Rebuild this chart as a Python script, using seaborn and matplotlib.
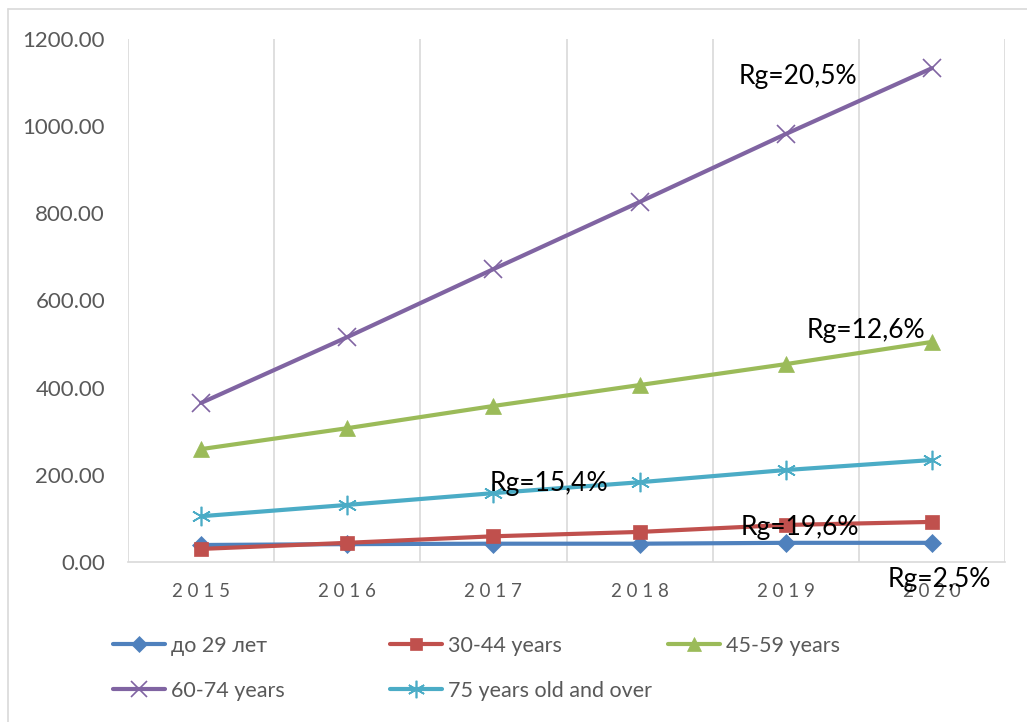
import matplotlib
matplotlib.use("Agg")
import matplotlib.pyplot as plt
import seaborn as sns
import pandas as pd
import numpy as np
from matplotlib.lines import Line2D

years = [2015, 2016, 2017, 2018, 2019, 2020]
series_names = ["до 29 лет", "30-44 years", "45-59 years", "60-74 years", "75 years old and over"]
v_upto29 = [39, 41, 42, 42, 44, 44]
v_30_44 = [30, 44, 59, 69, 85, 92]
v_45_59 = [259, 307, 358, 406, 454, 505]
v_60_74 = [365, 516, 672, 826, 982, 1133]
v_75plus = [105, 131, 158, 183, 211, 234]
y_ticks = [0, 200, 400, 600, 800, 1000, 1200]
growth_labels = ["Rg=20,5%", "Rg=12,6%", "Rg=15,4%", "Rg=19,6%", "Rg=2,5%"]

sns.set_theme(style="white")
plt.rcParams['font.family'] = ['Lato', 'DejaVu Sans']

colors = {"до 29 лет": "#4F81BD", "30-44 years": "#C0504D", "45-59 years": "#9BBB59",
          "60-74 years": "#8064A2", "75 years old and over": "#4BACC6"}
markers = {"до 29 лет": "D", "30-44 years": "s", "45-59 years": "^",
           "60-74 years": "x", "75 years old and over": (6, 2, 0)}
msizes = {"до 29 лет": 9, "30-44 years": 10, "45-59 years": 11,
          "60-74 years": 13, "75 years old and over": 14}

all_vals = [v_upto29, v_30_44, v_45_59, v_60_74, v_75plus]
df = pd.DataFrame({
    "idx": np.tile(np.arange(len(years)), len(series_names)),
    "value": np.concatenate(all_vals),
    "series": np.repeat(series_names, len(years)),
})

fig = plt.figure(figsize=(10.27, 7.22), dpi=100)
ax = fig.add_axes([128/1027, 1 - 562/722, (1005-128)/1027, (562-39)/722])

handles = {}
for name in series_names:
    sub = df[df.series == name]
    mew = 1.2 if name in ("60-74 years", "75 years old and over") else 0.5
    sns.lineplot(data=sub, x="idx", y="value", ax=ax, color=colors[name], linewidth=3,
                 marker=markers[name], markersize=msizes[name],
                 markeredgecolor=colors[name], markeredgewidth=mew, legend=False)
    handles[name] = Line2D([], [], color=colors[name], linewidth=3, marker=markers[name],
                           markersize=msizes[name] * 0.9, markeredgecolor=colors[name],
                           markeredgewidth=mew)

ax.set_xlim(-0.5, len(years) - 0.5)
ax.set_ylim(0, 1200)
ax.set_yticks(y_ticks)
ax.set_yticklabels([f"{t:.2f}" for t in y_ticks], fontsize=16, color="#595959")
ax.set_xticks(range(len(years)))
ax.set_xticklabels([" ".join(str(y)) for y in years], fontsize=13.5, color="#595959")
ax.tick_params(axis='both', length=0)
ax.tick_params(axis='y', pad=16.5)
ax.tick_params(axis='x', pad=15)
ax.set_xlabel("")
ax.set_ylabel("")

for b in np.arange(-0.5, len(years), 1.0):
    ax.axvline(b, color="#D9D9D9", linewidth=1.2, zorder=0)
for s in ["top", "right", "left"]:
    ax.spines[s].set_visible(False)
ax.spines["bottom"].set_color("#D9D9D9")
ax.spines["bottom"].set_linewidth(1.2)

ann_pos = [(4.08, 1113), (4.55, 532), (2.38, 181), (4.10, 80), (5.05, -41)]
for lbl, (x, y) in zip(growth_labels, ann_pos):
    ax.text(x, y, lbl, fontsize=19, color="black", ha="center", va="center", clip_on=False, zorder=10)

cols = [(["до 29 лет", "60-74 years"], 113), (["30-44 years", "75 years old and over"], 390),
        (["45-59 years"], 668)]
for names, xpx in cols:
    leg = fig.legend([handles[n] for n in names], names, loc="upper left",
                     bbox_to_anchor=(xpx/1027, 1 - 636/722), frameon=False,
                     fontsize=15.5, handlelength=2.4, handletextpad=0.3,
                     labelspacing=1.15, borderaxespad=0, borderpad=0)
    for t in leg.get_texts():
        t.set_color("#595959")

fig.add_artist(Line2D([8/1027, 8/1027], [0, 1 - 9/722], color="#D9D9D9", linewidth=1.2, transform=fig.transFigure))
fig.add_artist(Line2D([8/1027, 1], [1 - 9/722, 1 - 9/722], color="#D9D9D9", linewidth=1.2, transform=fig.transFigure))

fig.savefig("out.png", dpi=100, facecolor="white")
